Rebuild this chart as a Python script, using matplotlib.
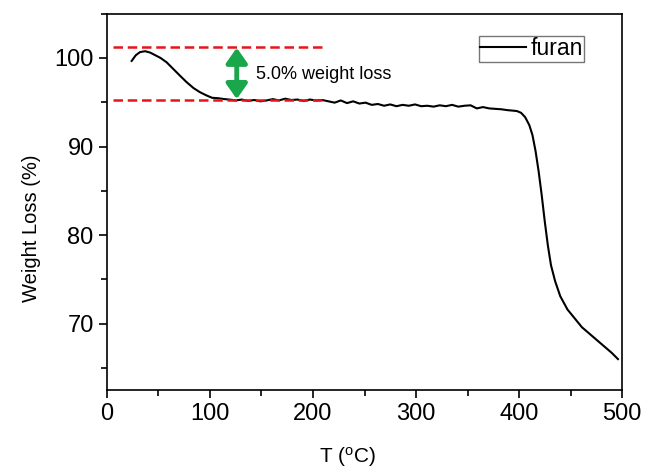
import matplotlib
matplotlib.use('agg')
import matplotlib.pyplot as plt
from matplotlib.ticker import MultipleLocator

plt.rcParams['font.family'] = ['Liberation Sans', 'DejaVu Sans']
plt.rcParams['mathtext.fontset'] = 'custom'
plt.rcParams['mathtext.rm'] = 'Liberation Sans'

# TGA trace for the furan sample
temp = [24, 28, 32, 37, 42, 47, 52, 58, 64, 70, 77, 84, 90, 96, 102, 108, 114, 119,
        125, 131, 137, 143, 149, 155, 161, 167, 173, 179, 185, 191, 197, 203, 209,
        215, 221, 227, 233, 239, 245, 251, 257, 263, 269, 275, 281, 287, 293, 299,
        305, 311, 317, 323, 329, 335, 341, 347, 353, 359, 365, 371, 377, 383, 389,
        394, 398, 402, 406, 410, 413, 416, 419, 422, 425, 428, 431, 435, 440, 447,
        454, 461, 469, 476, 483, 490, 496]
weight = [99.66, 100.3, 100.65, 100.76, 100.6, 100.3, 100.0, 99.5, 98.8, 98.1, 97.3,
          96.6, 96.15, 95.8, 95.5, 95.45, 95.35, 95.3, 95.2, 95.3, 95.15, 95.25, 95.1,
          95.2, 95.35, 95.2, 95.4, 95.25, 95.3, 95.15, 95.3, 95.2, 95.25, 95.1, 94.95,
          95.2, 94.9, 95.1, 94.85, 94.95, 94.7, 94.8, 94.6, 94.75, 94.55, 94.7, 94.6,
          94.75, 94.55, 94.6, 94.5, 94.65, 94.55, 94.7, 94.5, 94.6, 94.65, 94.3, 94.45,
          94.3, 94.25, 94.2, 94.1, 94.05, 94.0, 93.8, 93.3, 92.4, 91.3, 89.5, 87.2,
          84.5, 81.5, 78.8, 76.6, 74.8, 73.1, 71.6, 70.6, 69.6, 68.8, 68.1, 67.4,
          66.7, 66.0]

# annotation levels
upper_level = 101.2
lower_level = 95.3
span_start = 6
span_end = 212
arrow_temp = 126

fig = plt.figure(figsize=(6.48, 4.70), dpi=100)
ax = fig.add_axes([0.165, 0.170, 0.795, 0.801])

ax.plot(temp, weight, color='black', linewidth=1.5, label='furan')

ax.hlines([upper_level, lower_level], span_start, span_end, colors='#e8141b',
          linestyles=(0, (3.8, 1.9)), linewidth=1.8)
ax.annotate('', xy=(arrow_temp, lower_level + 0.05), xytext=(arrow_temp, upper_level - 0.05),
            arrowprops=dict(arrowstyle='<|-|>,head_length=0.5,head_width=0.35',
                            color='#1aa64a', lw=3.5, mutation_scale=18,
                            shrinkA=0, shrinkB=0))
ax.text(145, 98.1, '5.0% weight loss', fontsize=13, va='center', ha='left')

ax.set_xlim(0, 500)
ax.set_ylim(62.5, 105)
ax.xaxis.set_major_locator(MultipleLocator(100))
ax.xaxis.set_minor_locator(MultipleLocator(50))
ax.yaxis.set_major_locator(MultipleLocator(10))
ax.yaxis.set_minor_locator(MultipleLocator(5))
ax.tick_params(which='major', direction='out', length=6, width=1.2, labelsize=17)
ax.tick_params(which='minor', direction='out', length=4, width=1.2)
for s in ax.spines.values():
    s.set_linewidth(1.2)

ax.set_xlabel(r'T ($\mathregular{^o}$C)', fontsize=15)
ax.set_ylabel('Weight Loss (%)', fontsize=14.5)
ax.xaxis.set_label_coords(0.468, -0.145)
ax.yaxis.set_label_coords(-0.128, 0.43)

leg = ax.legend(loc='upper right', bbox_to_anchor=(0.926, 0.94), fontsize=16.5,
                frameon=True, fancybox=False, handlelength=2.0, handletextpad=0.2,
                borderpad=0.05, borderaxespad=0)
leg.get_frame().set_edgecolor('#555555')
leg.get_frame().set_linewidth(1.0)

plt.savefig('out.png', dpi=100)
